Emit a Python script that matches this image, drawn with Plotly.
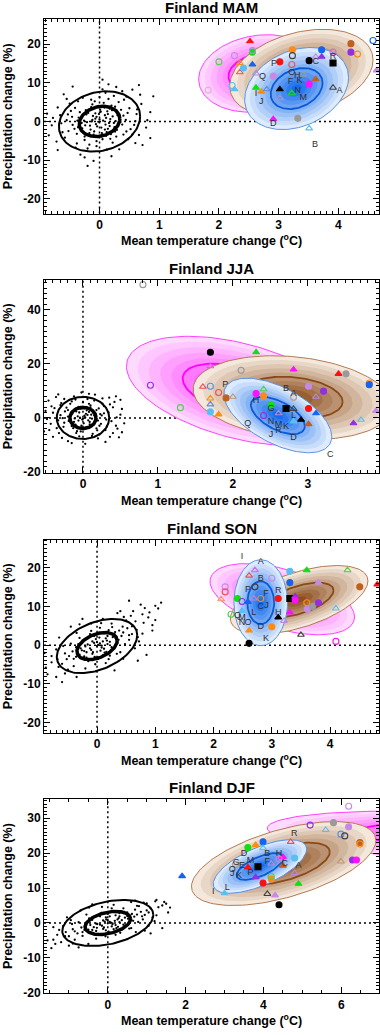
import numpy as np
import plotly.graph_objects as go

W, H = 380, 1035
FONT = "Liberation Sans, Arial, Helvetica, sans-serif"

# ---------------- data ----------------
season_titles = ["Finland MAM", "Finland JJA", "Finland SON", "Finland DJF"]

# axis tick values / labels
mam_xticks = [0, 1, 2, 3, 4]
mam_yticks = [-20, -10, 0, 10, 20]
jja_xticks = [0, 1, 2, 3]
jja_yticks = [-20, 0, 20, 40]
son_xticks = [0, 1, 2, 3, 4]
son_yticks = [-20, -10, 0, 10, 20]
djf_xticks = [0, 2, 4, 6]
djf_yticks = [-20, -10, 0, 10, 20, 30]

# ellipse statistics: [centre T, centre P, half-width T, half-height P, correlation]
mam_ell = {"magenta": [2.66, 12.4, 1.0, 10.0, 0.15], "brown": [3.38, 12.5, 1.2, 11.3, 0.30],
           "blue": [3.30, 8.5, 0.87, 10.6, 0.27], "noise": [0.0, 0.0, 0.68, 7.8, 0.17]}
jja_ell = {"magenta": [2.08, 10.0, 1.5, 20.2, -0.45], "brown": [2.80, 7.5, 1.33, 15.5, -0.20],
           "blue": [2.60, 0.9, 0.72, 13.8, -0.57], "noise": [0.0, 0.0, 0.35, 7.8, 0.0]}
son_ell = {"magenta": [3.18, 11.9, 1.24, 9.2, -0.5], "brown": [3.47, 11.75, 1.18, 8.85, 0.55],
           "blue": [2.81, 11.0, 0.46, 11.1, 0.0], "noise": [0.0, -0.2, 0.69, 7.0, 0.4]}
djf_ell = {"magenta": [8.7, 25.0, 4.6, 7.0, -0.3], "brown": [4.52, 17.0, 2.37, 12.0, 0.55],
           "blue": [3.91, 16.15, 1.2, 7.65, 0.65], "noise": [0.0, 0.0, 1.17, 6.6, 0.35]}

# model markers
mam_x = [2.52, 2.00, 2.26, 1.82, 2.22, 2.26, 2.56, 2.56, 2.35, 2.35, 2.41, 2.62, 2.56, 2.62, 2.71, 2.80, 3.23, 3.23, 3.02, 3.22, 2.91, 3.02, 3.22, 3.02, 2.91, 3.32, 3.51, 3.51, 3.62, 3.72, 3.72, 3.41, 3.62, 3.51, 3.91, 3.91, 3.91, 4.21, 4.21, 4.32, 4.58, 4.64]
mam_y = [20.7, 15.4, 17.0, 8.1, 9.3, 8.3, 17.9, 18.3, 15.1, 12.7, 13.8, 12.4, 14.7, 8.7, 7.7, 8.3, 18.5, 17.0, 15.4, 14.7, 11.7, 8.3, 7.3, 6.0, 0.6, 0.8, -1.8, 15.7, 16.7, 16.7, 18.5, 12.1, 10.9, 9.7, 8.7, 15.1, 17.9, 20.1, 17.9, 17.4, 20.9, 13.2]
mam_sym = ["ft", "oc", "oc", "oc", "oc", "ft", "fc", "oc", "ot", "ot", "fc", "ot", "ft", "ft", "ft", "ot", "fc", "oc", "fc", "oc", "fc", "ft", "ot", "ot", "ft", "fc", "ot", "fc", "ot", "ft", "fc", "ot", "ft", "fc", "ot", "fs", "oc", "fc", "fc", "oc", "oc", "ft"]
mam_col = ["red", "lgreen", "lpurple", "pgray", "lblue", "lblue", "green", "lav", "orange", "coral", "lblue", "lav", "blue", "green", "orange", "mblue", "orange", "dgray", "red", "coral", "lpurple", "black", "green", "lav", "magenta", "gray", "lblue", "black", "lpurple", "purple", "blue", "gray", "sienna", "magenta", "dgray", "black", "violet", "sienna", "purple", "orange", "blue", "lpurple"]

jja_x = [0.80, 0.90, 1.30, 1.70, 1.70, 2.31, 2.11, 2.81, 3.41, 3.51, 3.82, 3.82, 3.01, 3.21, 3.11, 1.60, 1.70, 1.81, 1.91, 2.00, 1.70, 1.70, 1.70, 1.81, 2.31, 2.41, 2.41, 2.51, 2.71, 2.81, 2.81, 2.41, 2.61, 2.81, 2.91, 3.01, 3.01, 3.11, 3.61, 3.71, 3.91]
jja_y = [49.3, 12.1, 3.8, 24.3, 19.1, 24.3, 17.6, 17.9, 16.3, 16.3, 12.9, 12.3, 11.7, 9.9, 7.8, 11.5, 11.7, 9.4, 7.4, 7.8, 7.2, 5.0, 2.3, 1.3, 9.0, 8.2, 10.6, 4.8, 3.5, 3.3, 7.6, 0.9, 1.7, -1.3, -0.7, -2.3, 3.5, 1.7, -2.0, -0.7, 2.6]
jja_sym = ["oc", "oc", "oc", "fc", "ot", "ft", "oc", "ft", "ft", "fc", "oc", "fc", "fc", "fc", "ot", "ot", "oc", "oc", "fc", "ot", "ot", "ot", "fc", "ft", "fc", "fc", "ot", "fc", "fs", "ot", "oc", "oc", "ot", "ft", "ft", "ft", "fc", "ft", "ft", "ot", "ft"]
jja_col = ["gray", "purple", "lgreen", "black", "violet", "green", "gray", "magenta", "red", "gray", "orange", "blue", "lpurple", "purple", "lav", "coral", "mblue", "coral", "sienna", "tan", "orange", "mblue", "lblue", "orange", "magenta", "orange", "lgreen", "green", "black", "dgray", "tan", "purple", "lav", "lblue", "black", "sienna", "red", "blue", "purple", "lblue", "lpurple"]

son_x = [2.13, 2.20, 2.20, 2.30, 2.41, 2.49, 2.59, 2.61, 2.71, 2.71, 2.69, 2.81, 3.00, 3.11, 3.11, 3.00, 2.61, 2.61, 3.31, 3.31, 3.31, 3.40, 3.40, 3.31, 3.60, 3.80, 3.60, 3.61, 3.70, 3.80, 4.10, 4.30, 4.51, 4.81, 3.50, 4.10, 2.49, 3.21]
son_y = [11.9, 15.1, 13.8, 8.0, 12.1, 11.3, 11.2, 18.0, 19.4, 15.1, 12.1, 12.1, 17.3, 12.1, 7.2, 4.8, 3.8, 0.5, 19.1, 16.2, 12.1, 12.6, 11.7, 8.5, 19.4, 16.2, 11.0, 9.3, 10.0, 11.0, 9.5, 19.4, 15.1, 15.7, 2.7, 1.0, 8.9, 6.3]
son_sym = ["ot", "oc", "oc", "oc", "fc", "oc", "ft", "ot", "ot", "oc", "ot", "oc", "oc", "fc", "ft", "fc", "ft", "fc", "fc", "fc", "fs", "ft", "fc", "ft", "ft", "ft", "oc", "fc", "fc", "fc", "ot", "ot", "fc", "ft", "ot", "oc", "ft", "ot"]
son_col = ["salmon", "lpurple", "coral", "lgreen", "green", "purple", "blue", "coral", "violet", "dgray", "lav", "orange", "lpurple", "red", "black", "orange", "orange", "black", "lblue", "blue", "black", "purple", "magenta", "magenta", "green", "lpurple", "orange", "lpurple", "gray", "purple", "lblue", "lgreen", "sienna", "red", "dgray", "magenta", "lblue", "lav"]

djf_x = [1.91, 3.00, 4.40, 4.10, 4.30, 3.99, 4.20, 4.20, 4.90, 3.80, 3.60, 3.86, 3.60, 3.80, 3.99, 3.99, 4.20, 4.50, 4.40, 4.50, 4.80, 4.80, 4.70, 3.28, 5.20, 5.60, 5.80, 5.99, 6.09, 6.19, 6.19, 6.48, 6.48, 5.99, 6.29, 6.39]
djf_y = [13.4, 8.5, 5.2, 8.3, 7.9, 11.4, 12.6, 13.3, 11.2, 13.1, 15.9, 16.1, 21.6, 22.3, 23.2, 21.4, 17.0, 18.9, 18.3, 16.4, 18.6, 14.3, 23.2, 16.7, 28.0, 26.6, 28.7, 25.4, 24.9, 27.5, 33.4, 23.0, 22.6, 17.6, 18.0, 18.0]
djf_sym = ["ft", "ft", "fc", "ot", "ft", "fc", "fc", "oc", "ft", "ft", "ft", "fs", "fc", "ft", "fc", "ot", "ot", "ft", "oc", "ft", "fc", "ot", "ot", "oc", "oc", "ot", "fc", "oc", "oc", "fc", "oc", "fc", "oc", "ot", "fc", "fc"]
djf_col = ["blue", "lblue", "black", "dgray", "lpurple", "red", "orange", "lgreen", "green", "purple", "red", "black", "green", "orange", "blue", "lblue", "lav", "magenta", "pink", "sienna", "lblue", "lav", "coral", "tan", "purple", "lblue", "gray", "mblue", "dgray", "lpurple", "lpurple", "sienna", "orange", "tan", "purple", "magenta"]

# model letters
mam_lab = ["A", "B", "C", "D", "R", "F", "H", "K", "O", "P", "Q", "I", "J", "N", "M"]
mam_lab_x = [4.02, 3.61, 3.62, 2.91, 3.91, 3.20, 3.31, 3.35, 3.22, 2.92, 2.73, 2.62, 2.71, 3.32, 3.41]
mam_lab_y = [7.9, -6.1, 15.5, -0.5, 16.6, 10.3, 11.7, 10.6, 12.7, 14.9, 11.6, 7.2, 5.2, 7.9, 6.2]
jja_lab = ["A", "B", "C", "D", "P", "G", "H", "J", "K", "L", "M", "N", "Q", "R"]
jja_lab_x = [2.81, 2.71, 3.30, 2.81, 1.90, 2.51, 2.31, 2.51, 2.71, 2.81, 2.61, 2.51, 2.20, 2.61]
jja_lab_y = [8.9, 10.9, -13.5, -7.2, 12.2, 3.3, 6.3, -6.2, -3.2, 0.9, -2.6, -1.3, -2.2, -4.6]
son_lab = ["I", "A", "B", "P", "F", "C", "J", "L", "R", "H", "Q", "M", "N", "O", "D", "K"]
son_lab_x = [2.49, 2.81, 2.81, 2.59, 2.90, 2.81, 2.91, 2.69, 3.11, 3.11, 2.41, 2.49, 2.49, 2.59, 2.81, 2.90]
son_lab_y = [22.8, 21.7, 17.2, 14.4, 13.2, 9.9, 10.2, 8.5, 14.0, 8.5, 7.6, 7.2, 5.9, 5.9, 4.8, 1.8]
djf_lab = ["R", "B", "H", "F", "A", "C", "D", "G", "M", "E", "P", "O", "J", "K", "L", "I"]
djf_lab_x = [4.79, 4.10, 4.40, 4.10, 4.90, 4.55, 3.50, 3.30, 3.67, 3.45, 3.67, 3.20, 3.20, 3.37, 3.07, 2.71]
djf_lab_y = [25.4, 19.7, 19.7, 17.5, 16.4, 17.0, 19.9, 17.1, 17.8, 16.3, 14.5, 15.2, 14.0, 13.5, 10.2, 8.8]

# natural-variability cloud (sparse subset)
mam_noise = [(-0.05, 1.2), (0.10, -0.8), (0.02, 2.5), (-0.15, -2.1), (0.18, 0.6), (-0.22, 1.8), (0.25, -1.5), (0.08, 3.6), (-0.10, -3.4), (0.30, 2.2), (-0.30, -0.4), (0.12, -2.8), (-0.02, -0.1), (0.20, 4.1), (-0.18, 3.0), (0.35, -0.2), (-0.35, 1.0), (0.05, -4.6), (-0.08, 5.2), (0.40, 1.5), (-0.42, -1.9), (0.15, 5.8), (-0.25, -4.8), (0.28, -3.9), (-0.12, 4.4), (0.45, -2.6), (-0.48, 2.7), (0.00, 6.3), (0.22, -5.5), (-0.38, -3.2), (0.50, 3.4), (-0.55, 0.3), (0.58, -0.9), (-0.05, -6.4), (0.32, 5.0), (-0.28, 6.1), (0.62, 1.9), (-0.62, -2.8), (0.10, 7.4), (-0.20, -7.0), (0.48, -4.6), (-0.50, 4.6), (0.70, 4.5), (-0.72, -5.2), (0.38, 7.8), (-0.32, -8.6), (0.78, -1.6), (-0.78, 0.9), (0.15, 9.6), (-0.10, -10.2), (0.55, 8.2), (-0.60, 7.0), (0.05, 10.8), (0.20, -9.0), (0.85, 2.4), (-0.85, -3.6), (0.72, -6.1), (-0.45, 9.0), (0.90, 6.5), (-0.20, -11.5), (0.03, -1.6), (-0.07, 0.7), (0.14, 1.9), (-0.16, -1.1), (0.24, -0.4), (-0.26, 0.2),
             (0.06, 0.2), (-0.12, 0.4), (0.16, -0.4), (-0.04, -1.3), (0.22, 1.3), (-0.24, -1.0), (0.09, -2.1), (-0.19, 2.2), (0.27, 0.1), (-0.31, 0.8), (0.01, 3.0), (0.13, 2.6), (-0.09, -2.6), (0.31, -1.1), (-0.27, -2.8), (0.19, -3.3), (-0.14, 3.7), (0.04, -3.9), (0.36, 3.0), (-0.36, -1.5), (0.26, 3.8), (-0.01, 1.9), (0.11, 0.9), (-0.21, -0.2), (0.17, -1.2), (-0.11, 1.4), (0.29, -2.2), (-0.33, 2.4), (0.07, 4.8), (-0.05, -5.1), (0.40, -3.4), (-0.41, 3.5), (0.44, 0.4), (-0.45, -0.9), (0.52, -2.0), (-0.53, 1.8), (0.24, 6.6), (-0.17, -6.0), (0.60, 0.1), (-0.64, -0.5), (0.41, 5.6), (-0.36, 5.2), (0.12, -7.3), (0.66, -3.5), (-0.58, -4.2), (0.05, 8.3), (-0.40, -6.8), (0.68, 6.9), (0.33, -7.2), (-0.70, 3.6),
             (0.00, 0.5), (0.14, -1.9), (-0.06, -0.7), (0.21, 2.9), (-0.23, 2.9), (0.09, 1.6), (-0.17, -3.0), (0.26, -2.6), (-0.13, 0.0), (0.33, 0.9), (-0.29, -1.8), (0.04, -3.0), (-0.02, 4.0), (0.17, 3.3), (-0.37, 0.2), (0.38, -0.8), (-0.07, 2.1), (0.11, -3.7), (-0.25, -3.9), (0.30, 1.6), (0.47, 2.2), (-0.46, 1.2), (0.55, -3.4), (-0.52, -2.5), (0.18, -4.5), (-0.14, 5.6), (0.63, 3.1), (-0.66, 1.6), (0.45, 6.4), (-0.38, -5.7), (0.80, 0.3), (-0.80, -1.0), (0.60, -5.6), (-0.55, 5.8), (0.28, 8.9), (-0.25, -9.3), (0.85, -4.3), (-0.88, 2.0), (0.66, 9.4), (-0.70, -7.4)]
jja_noise = [(0.02, 0.8), (-0.06, -1.0), (0.08, 2.2), (-0.10, -2.5), (0.12, -0.3), (-0.14, 1.6), (0.15, -1.8), (-0.03, 3.4), (0.05, -3.6), (0.18, 2.9), (-0.18, -0.6), (0.10, 4.6), (-0.08, -4.9), (0.22, -2.9), (-0.22, 3.8), (0.00, 5.8), (0.25, 0.9), (-0.26, -3.3), (0.13, -5.9), (-0.15, 6.1), (0.28, 4.4), (-0.30, 1.0), (0.30, -4.5), (-0.05, -6.8), (0.06, 7.0), (-0.32, -5.6), (0.34, 2.0), (-0.12, 8.0), (0.20, -7.6), (0.38, -1.2), (-0.38, 3.6), (0.16, 8.6), (-0.20, -8.6), (0.42, 5.9), (-0.43, -2.2), (0.46, -4.0), (-0.46, 6.4), (0.50, 1.2), (0.03, -9.6), (-0.02, 9.4), (0.26, 7.2), (-0.28, -7.4), (0.44, 8.0), (-0.40, -7.0), (0.48, -7.2), (0.07, -0.9), (-0.04, 0.1), (0.01, -2.0), (-0.09, 2.4), (0.11, 1.2), (-0.12, -1.5), (0.20, -1.0), (-0.20, 0.5), (0.35, 7.5), (0.45, 0.2), (-0.48, -0.4),
             (0.03, 0.2), (-0.07, 0.6), (0.09, -1.5), (-0.02, -2.9), (0.14, 1.8), (-0.16, -2.0), (0.05, 2.8), (-0.11, 3.1), (0.17, 0.2), (-0.19, -1.1), (0.00, -4.2), (0.12, -3.1), (-0.13, -3.8), (0.21, 3.5), (-0.24, 2.4), (0.08, 5.2), (-0.06, 4.1), (0.24, -2.2), (-0.27, -0.1), (0.19, -4.6), (0.04, 1.5), (-0.01, -0.6), (0.10, 3.9), (-0.09, -5.6), (0.28, 1.7), (-0.30, 4.7), (0.32, -3.2), (-0.35, -3.8), (0.15, 6.4), (-0.17, 5.2), (0.36, 5.0), (-0.40, 1.9), (0.40, -5.6), (0.22, -6.1), (-0.25, 7.0), (0.52, 3.3), (0.55, -2.0), (-0.52, -5.0), (0.30, -8.9), (-0.33, 8.7),
             (0.00, -0.3), (0.06, 1.1), (-0.11, -0.2), (0.15, 0.9), (-0.05, 2.0), (0.09, -2.4), (-0.15, -3.0), (0.18, -3.9), (-0.20, 2.9), (0.23, 1.4), (-0.25, -1.8), (0.02, 3.6), (-0.03, -5.0), (0.26, 5.3), (-0.29, 5.5), (0.31, -0.6), (-0.33, -0.9), (0.12, -6.7), (-0.10, 6.8), (0.40, 3.9), (-0.42, 4.3), (0.44, -2.9), (-0.45, -4.5), (0.08, 8.9), (-0.15, -9.3), (0.50, 6.7), (0.52, -5.3), (-0.50, 2.6), (0.36, -7.0), (-0.36, 7.7)]
son_noise = [(0.05, 0.5), (-0.10, -1.2), (0.15, 1.8), (-0.20, -0.3), (0.25, -0.5), (-0.05, 2.4), (0.10, -2.6), (0.30, 2.9), (-0.30, -2.4), (0.00, -0.2), (0.20, 3.9), (-0.25, 1.2), (0.35, 0.6), (-0.40, -3.5), (0.45, 3.3), (-0.15, -4.1), (0.05, 4.5), (0.40, -1.8), (-0.45, 0.4), (-0.55, -2.1), (0.55, 1.4), (0.15, -4.6), (-0.35, 3.2), (0.60, 4.9), (-0.60, -4.8), (0.25, 5.6), (-0.20, -6.0), (0.70, 2.1), (-0.70, -1.1), (0.50, 6.4), (-0.50, -6.3), (0.80, 5.8), (-0.78, -4.4), (0.10, 6.8), (0.65, -0.8), (-0.65, 2.0), (0.90, 8.5), (-0.85, -7.5), (0.95, 3.8), (1.05, 9.5), (0.75, 10.5), (0.55, 11.5), (-0.60, -9.5), (-0.35, -8.2), (0.30, -6.5), (-0.10, 5.6), (0.85, -2.5), (1.00, 6.5), (-0.90, -2.0), (0.35, 8.3), (-0.25, 6.8), (0.02, -3.5), (-0.08, 1.0), (0.12, -0.9), (0.18, 0.3), (-0.18, -1.8), (0.40, 8.8), (1.10, 11.0), (0.70, -4.0), (-0.45, 4.8),
             (0.02, 0.1), (0.10, 1.0), (-0.12, -0.8), (0.22, 0.9), (-0.22, -1.5), (0.06, -1.4), (-0.02, 1.6), (0.18, 2.4), (-0.28, -0.8), (0.32, 1.8), (-0.08, -2.2), (0.28, -0.9), (-0.32, 0.3), (0.12, 3.1), (-0.18, -3.2), (0.38, 3.8), (-0.42, -1.6), (0.48, 0.3), (-0.12, 2.9), (0.22, -2.7), (0.08, -0.1), (-0.05, 0.6), (0.42, 2.4), (-0.36, -3.0), (0.16, -1.7), (0.52, 4.4), (-0.52, -3.6), (0.26, 4.7), (-0.30, 1.9), (0.60, 2.9), (-0.04, -3.0), (0.34, -2.2), (0.66, 6.2), (-0.66, -5.6), (0.78, 3.0), (-0.78, -2.8), (0.46, 7.3), (-0.40, -5.4), (0.88, 7.2), (0.62, 8.8), (1.00, 10.2), (0.82, 9.6), (-0.95, -4.5), (-0.70, -8.2), (0.72, 1.0),
             (0.00, 0.8), (0.08, -0.6), (-0.07, -1.8), (0.17, 1.2), (-0.16, 0.2), (0.27, 2.1), (-0.26, -1.3), (0.04, 2.0), (0.13, -1.9), (-0.22, -2.9), (0.37, 1.4), (-0.36, -0.5), (0.31, 3.4), (-0.10, 3.7), (0.20, -3.6), (0.44, 4.8), (-0.48, -2.8), (0.55, 2.6), (-0.58, -0.2), (0.07, 5.7), (-0.03, -4.9), (0.68, 4.0), (-0.68, -3.6), (0.58, 7.6), (-0.55, -7.3), (0.95, 5.2), (-0.88, -5.8), (0.45, -3.5), (-0.30, 5.4), (0.78, 8.0)]
djf_noise = [(0.05, 0.3), (-0.15, -0.8), (0.25, 1.0), (-0.30, -0.2), (0.40, -0.5), (-0.05, 1.6), (0.15, -1.8), (0.50, 2.0), (-0.50, -1.9), (0.00, -0.1), (0.30, 2.8), (-0.40, 0.9), (0.65, 0.6), (-0.65, -2.6), (0.75, 2.4), (-0.25, -3.1), (0.10, 3.3), (0.60, -1.5), (-0.75, 0.2), (-0.90, -1.8), (0.90, 1.0), (0.20, -3.4), (-0.55, 2.4), (1.00, 3.6), (-1.00, -3.8), (0.40, 4.2), (-0.30, -4.5), (1.15, 1.6), (-1.15, -0.9), (0.80, 4.8), (-0.85, -4.8), (1.30, 4.5), (-1.30, -3.4), (0.15, 5.2), (1.05, -0.8), (-1.05, 1.6), (1.45, 6.0), (-1.35, -6.0), (1.55, 3.0), (1.25, 6.6), (-1.00, -6.5), (-0.50, -6.0), (0.50, -4.6), (-0.15, 4.6), (1.40, -1.5), (-1.40, -1.2), (0.60, 6.0), (-0.40, 5.3), (0.02, -2.5), (-0.12, 0.7), (0.20, -0.6), (0.30, 0.2), (-0.28, -1.4), (0.70, 6.4), (1.60, 4.4), (1.10, -3.0), (-0.70, 3.6), (-1.45, -7.2), (-0.75, -7.0), (0.95, -2.2),
             (0.08, 0.1), (0.18, 0.6), (-0.20, -0.5), (0.36, 0.8), (-0.36, -1.2), (0.10, -1.0), (-0.04, 1.0), (0.30, 1.9), (-0.45, -0.6), (0.52, 1.2), (-0.12, -1.7), (0.45, -0.8), (-0.52, 0.3), (0.20, 2.2), (-0.30, -2.3), (0.62, 2.6), (-0.68, -1.3), (0.78, 0.3), (-0.20, 1.9), (0.36, -1.9), (0.12, -0.1), (-0.08, 0.4), (0.68, 1.8), (-0.60, -2.0), (0.26, -1.1), (0.85, 3.2), (-0.85, -2.4), (0.42, 3.2), (-0.48, 1.3), (0.95, 2.3), (-0.05, -2.1), (0.55, -1.6), (1.10, 4.2), (-1.10, -3.8), (1.25, 2.2), (-1.25, -2.0), (0.75, 4.9), (-0.65, -3.7), (1.40, 5.0), (1.00, 5.6), (-1.55, -5.0), (-1.20, -5.5), (1.20, 0.5), (-0.95, 0.8), (0.00, 2.6),
             (0.00, 0.8), (0.12, -0.4), (-0.10, -1.3), (0.28, 1.4), (-0.27, -0.3), (0.44, 1.5), (-0.40, -2.0), (0.05, 1.9), (0.22, -1.5), (-0.36, -3.2), (0.60, 1.0), (-0.58, -0.9), (0.50, 3.0), (-0.16, 2.9), (0.32, -2.8), (0.70, 3.8), (-0.78, -3.0), (0.88, 1.9), (-0.92, -0.3), (0.10, 4.2), (-0.06, -3.8), (1.05, 3.0), (-1.08, -2.6), (0.92, 5.8), (-0.90, -5.9), (1.50, 5.5), (-1.40, -4.8), (0.72, -2.6), (-0.48, 4.4), (1.22, 6.2)]

# ---------------- styling ----------------
SYM = {"fc": "circle", "oc": "circle-open", "ft": "triangle-up", "ot": "triangle-up-open", "fs": "square"}
COL = {"red": "#ff1010", "green": "#10e010", "lgreen": "#50d050", "blue": "#1464f0", "lblue": "#58c0f0",
       "mblue": "#5a8ee0", "orange": "#ff8c10", "sienna": "#c0601e", "purple": "#9030e0", "lpurple": "#c58ae6",
       "lav": "#b48ad8", "magenta": "#ff10ff", "violet": "#e060e0", "gray": "#9a9a9a", "dgray": "#404040",
       "black": "#000000", "coral": "#f05050", "tan": "#c09878", "pink": "#f070c0", "pgray": "#d8b8d0",
       "salmon": "#ff9060"}
FAM = {  # light, dark, outline, inner contour
    "magenta": ((255, 218, 255), (255, 45, 255), "#ff40ff", "#ff00ff"),
    "brown": ((244, 232, 220), (140, 78, 30), "#b27a52", "#8a4a18"),
    "blue": ((222, 235, 252), (20, 108, 236), "#5a92e6", "#0a5ad8"),
}
SCALES = [1.0, 0.9, 0.8, 0.7, 0.6, 0.5, 0.4, 0.3, 0.2, 0.1]

panels = [
    dict(title=season_titles[0], ell=mam_ell, mx=mam_x, my=mam_y, ms=mam_sym, mc=mam_col,
         lab=mam_lab, lx=mam_lab_x, ly=mam_lab_y, noise=mam_noise, xt=mam_xticks, yt=mam_yticks,
         xr=[-0.93, 4.68], yr=[-23.8, 26.5], xminor=0.1, yminor=1, box=(19, 215)),
    dict(title=season_titles[1], ell=jja_ell, mx=jja_x, my=jja_y, ms=jja_sym, mc=jja_col,
         lab=jja_lab, lx=jja_lab_x, ly=jja_lab_y, noise=jja_noise, xt=jja_xticks, yt=jja_yticks,
         xr=[-0.52, 3.95], yr=[-20.3, 51.1], xminor=0.1, yminor=2, box=(281.7, 476)),
    dict(title=season_titles[2], ell=son_ell, mx=son_x, my=son_y, ms=son_sym, mc=son_col,
         lab=son_lab, lx=son_lab_x, ly=son_lab_y, noise=son_noise, xt=son_xticks, yt=son_yticks,
         xr=[-0.91, 4.84], yr=[-22.6, 27.3], xminor=0.1, yminor=1, box=(543.3, 737.7)),
    dict(title=season_titles[3], ell=djf_ell, mx=djf_x, my=djf_y, ms=djf_sym, mc=djf_col,
         lab=djf_lab, lx=djf_lab_x, ly=djf_lab_y, noise=djf_noise, xt=djf_xticks, yt=djf_yticks,
         xr=[-1.64, 6.97], yr=[-20.1, 35.5], xminor=0.5, yminor=1, box=(804.3, 1000)),
]


def ellipse(p, s=1.0, n=140):
    cx, cy, sx, sy, rho = p
    t = np.linspace(0, 2 * np.pi, n)
    x = cx + s * sx * np.cos(t)
    y = cy + s * sy * (rho * np.cos(t) + np.sqrt(1 - rho ** 2) * np.sin(t))
    return x, y


def mix(a, b, t):
    return "rgb(%d,%d,%d)" % tuple(round(a[i] * (1 - t) + b[i] * t) for i in range(3))


fig = go.Figure()
annotations = []
shapes = []
X_LEFT, X_RIGHT = 44, 379

for i, p in enumerate(panels):
    k = "" if i == 0 else str(i + 1)
    xa, ya = "x" + k, "y" + k
    top, bot = p["box"]

    for fam in ["magenta", "brown", "blue"]:
        light, dark, oc, ic = FAM[fam]
        par = p["ell"][fam]
        for j, s in enumerate(SCALES):
            ex, ey = ellipse(par, s)
            fig.add_trace(go.Scatter(x=ex, y=ey, mode="lines", fill="toself",
                                     fillcolor=mix(light, dark, j / (len(SCALES) - 1)),
                                     line=dict(width=0), xaxis=xa, yaxis=ya,
                                     hoverinfo="skip", showlegend=False))
        ex, ey = ellipse(par, 1.0)
        fig.add_trace(go.Scatter(x=ex, y=ey, mode="lines", line=dict(color=oc, width=1),
                                 xaxis=xa, yaxis=ya, hoverinfo="skip", showlegend=False))
        ex, ey = ellipse(par, 0.5)
        fig.add_trace(go.Scatter(x=ex, y=ey, mode="lines", line=dict(color=ic, width=1.8),
                                 xaxis=xa, yaxis=ya, hoverinfo="skip", showlegend=False))

    nx = [q[0] for q in p["noise"]]
    ny = [q[1] for q in p["noise"]]
    fig.add_trace(go.Scatter(x=nx, y=ny, mode="markers", marker=dict(size=2.3, color="black"),
                             xaxis=xa, yaxis=ya, hoverinfo="skip", showlegend=False))
    ex, ey = ellipse(p["ell"]["noise"], 1.0)
    fig.add_trace(go.Scatter(x=ex, y=ey, mode="lines", line=dict(color="black", width=2),
                             xaxis=xa, yaxis=ya, hoverinfo="skip", showlegend=False))
    ex, ey = ellipse(p["ell"]["noise"], 0.5)
    fig.add_trace(go.Scatter(x=ex, y=ey, mode="lines", line=dict(color="black", width=3.5),
                             xaxis=xa, yaxis=ya, hoverinfo="skip", showlegend=False))

    fig.add_trace(go.Scatter(
        x=p["mx"], y=p["my"], mode="markers",
        marker=dict(size=6, symbol=[SYM[s] for s in p["ms"]], color=[COL[c] for c in p["mc"]],
                    line=dict(width=1.1, color=[COL[c] for c in p["mc"]])),
        xaxis=xa, yaxis=ya, hoverinfo="skip", showlegend=False))
    fig.add_trace(go.Scatter(x=p["lx"], y=p["ly"], mode="text", text=p["lab"],
                             textfont=dict(family=FONT, size=9, color="#303030"),
                             xaxis=xa, yaxis=ya, hoverinfo="skip", showlegend=False))

    shapes.append(dict(type="line", xref=xa, yref=ya + " domain", x0=0, x1=0, y0=0, y1=1,
                       line=dict(color="black", width=1.5, dash="2px,3px"), layer="below"))
    shapes.append(dict(type="line", xref=xa + " domain", yref=ya, x0=0, x1=1, y0=0, y1=0,
                       line=dict(color="black", width=1.5, dash="2px,3px"), layer="below"))

    common = dict(showline=True, linecolor="black", linewidth=1, mirror="allticks",
                  ticks="inside", ticklen=6, tickwidth=1, tickcolor="black",
                  showgrid=False, zeroline=False,
                  tickfont=dict(family=FONT, size=12, color="black", weight="bold"))
    fig.layout["xaxis" + k] = dict(common, domain=[X_LEFT / W, X_RIGHT / W], range=p["xr"], anchor=ya,
                                   tickmode="array", tickvals=p["xt"], ticktext=[str(v) for v in p["xt"]],
                                   minor=dict(ticks="inside", ticklen=3, tickwidth=1, tickcolor="black",
                                              dtick=p["xminor"], tick0=0, showgrid=False))
    fig.layout["yaxis" + k] = dict(common, domain=[1 - bot / H, 1 - top / H], range=p["yr"], anchor=xa,
                                   tickmode="array", tickvals=p["yt"], ticktext=[str(v) for v in p["yt"]],
                                   minor=dict(ticks="inside", ticklen=3, tickwidth=1, tickcolor="black",
                                              dtick=p["yminor"], tick0=0, showgrid=False))

    annotations.append(dict(text="<b>%s</b>" % p["title"], xref="paper", yref="paper",
                            x=(X_LEFT + X_RIGHT) / 2 / W, y=1 - (top - 11) / H, showarrow=False,
                            xanchor="center", yanchor="middle", font=dict(family=FONT, size=15, color="black")))
    annotations.append(dict(text="<b>Mean temperature change (<sup>o</sup>C)</b>", xref="paper", yref="paper",
                            x=(X_LEFT + X_RIGHT) / 2 / W, y=1 - (bot + 27) / H, showarrow=False,
                            xanchor="center", yanchor="middle", font=dict(family=FONT, size=12.5, color="black")))
    annotations.append(dict(text="<b>Precipitation change (%)</b>", xref="paper", yref="paper",
                            x=8 / W, y=1 - (top + bot) / 2 / H, showarrow=False, textangle=-90,
                            xanchor="center", yanchor="middle", font=dict(family=FONT, size=12.5, color="black")))

fig.update_layout(width=W, height=H, autosize=False, margin=dict(l=0, r=0, t=0, b=0),
                  paper_bgcolor="white", plot_bgcolor="white", showlegend=False,
                  annotations=annotations, shapes=shapes)

fig.write_html("out.html", config={"displayModeBar": False},
               post_script="document.body.style.margin='0';document.body.style.overflow='hidden';")
